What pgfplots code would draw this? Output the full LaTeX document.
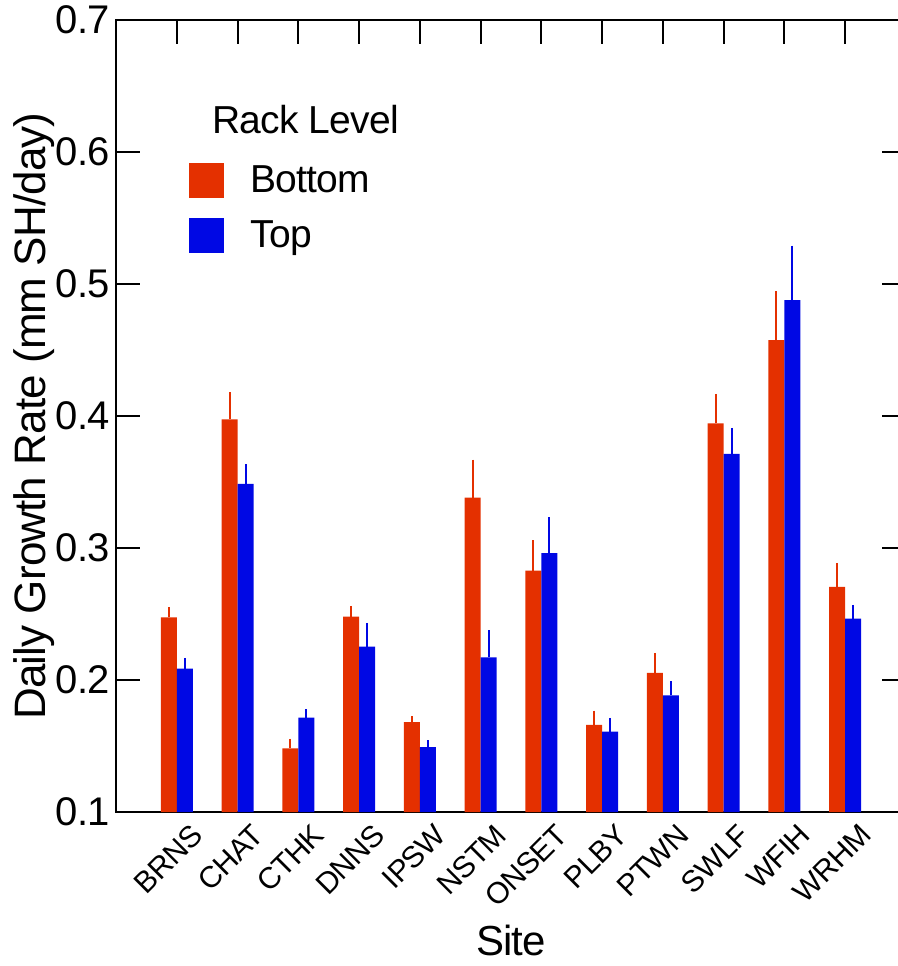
\documentclass[border=0pt]{standalone}
\usepackage{fontspec}
\setmainfont{Liberation Sans}[LetterSpace=-2]
\usepackage{pgfplots}
\pgfplotsset{compat=1.18}
\usepackage{pgfplotstable}

\definecolor{barred}{RGB}{228,48,0}
\definecolor{barblue}{RGB}{0,8,228}

% site index, mean growth rate, standard error
\pgfplotstableread{
x   y       e
0   0.2475  0.0060
1   0.3975  0.0190
2   0.1482  0.0056
3   0.2480  0.0066
4   0.1680  0.0030
5   0.3381  0.0273
6   0.2828  0.0217
7   0.1660  0.0092
8   0.2054  0.0137
9   0.3944  0.0209
10  0.4575  0.0355
11  0.2705  0.0168
}\bottomrack
\pgfplotstableread{
x   y       e
0   0.2086  0.0066
1   0.3485  0.0134
2   0.1715  0.0050
3   0.2252  0.0165
4   0.1492  0.0036
5   0.2172  0.0190
6   0.2962  0.0257
7   0.1608  0.0089
8   0.1883  0.0094
9   0.3713  0.0182
10  0.4878  0.0397
11  0.2465  0.0089
}\toprack

\begin{document}
\begin{tikzpicture}
\path[use as bounding box, clip] (-58pt,-77pt) rectangle (391pt,406pt);
\begin{axis}[
  at={(0,0)}, anchor=south west,
  scale only axis, width=395pt, height=396pt,
  xmin=-1, xmax=12, ymin=0.1, ymax=0.7,
  ybar=0pt, bar width=8pt,
  ytick={0.1,0.2,0.3,0.4,0.5,0.6,0.7},
  xtick={0,...,11},
  xticklabels={BRNS,CHAT,CTHK,DNNS,IPSW,NSTM,ONSET,PLBY,PTWN,SWLF,WFIH,WRHM},
  xtick pos=right, xticklabel pos=left,
  ytick pos=both, yticklabel pos=left,
  tick align=inside, xtick align=inside, ytick align=inside,
  major tick length=12pt,
  axis line style={line width=1pt},
  every tick/.style={black, line width=1pt},
  /pgf/number format/assume math mode=true,
  yticklabel style={/pgf/number format/.cd, fixed, fixed zerofill, precision=1, /tikz/.cd,
    font=\fontsize{20}{20}\selectfont, inner sep=0pt, xshift=-3pt},
  xticklabel style={font=\fontsize{15}{15}\selectfont, inner sep=0pt,
    xshift=6.5pt, yshift=-5pt, rotate=45, anchor=north east},
  xlabel={Site},
  xlabel style={font=\fontsize{21}{21}\selectfont, inner sep=0pt,
    at={(axis description cs:0.5,0)}, anchor=north, yshift=-56.5pt},
  ylabel={Daily Growth Rate (mm SH/day)},
  ylabel style={font=\fontsize{22}{22}\selectfont, inner sep=0pt,
    at={(axis description cs:-0.0772,0.5)}, anchor=south},
  legend image code/.code={\fill[#1,draw=none] (0pt,-8.75pt) rectangle (17.5pt,8.75pt);},
  legend style={draw=none, fill=none, at={(axis description cs:0.0924,0.8194)},
    anchor=north west, inner sep=0pt, font=\fontsize{19.5}{19.5}\selectfont,
    row sep=10pt, column sep=0pt, nodes={inner sep=0pt, anchor=west},
    /tikz/every odd column/.append style={column sep=13pt}},
  legend cell align=left,
]
\addplot[fill=barred, draw=none,
  error bars/.cd, y dir=plus, y explicit, error mark=-,
  error bar style={barred, line width=1pt},
  error mark options={barred, line width=1pt, mark size=1pt}]
  table[x=x, y=y, y error=e] {\bottomrack};
\addlegendentry{Bottom}
\addplot[fill=barblue, draw=none,
  error bars/.cd, y dir=plus, y explicit, error mark=-,
  error bar style={barblue, line width=1pt},
  error mark options={barblue, line width=1pt, mark size=1pt}]
  table[x=x, y=y, y error=e] {\toprack};
\addlegendentry{Top}
\node[anchor=base west, inner sep=0pt, font=\fontsize{19.5}{19.5}\selectfont]
  at (axis description cs:0.1215,0.8573) {Rack Level};
\end{axis}
\end{tikzpicture}
\end{document}
